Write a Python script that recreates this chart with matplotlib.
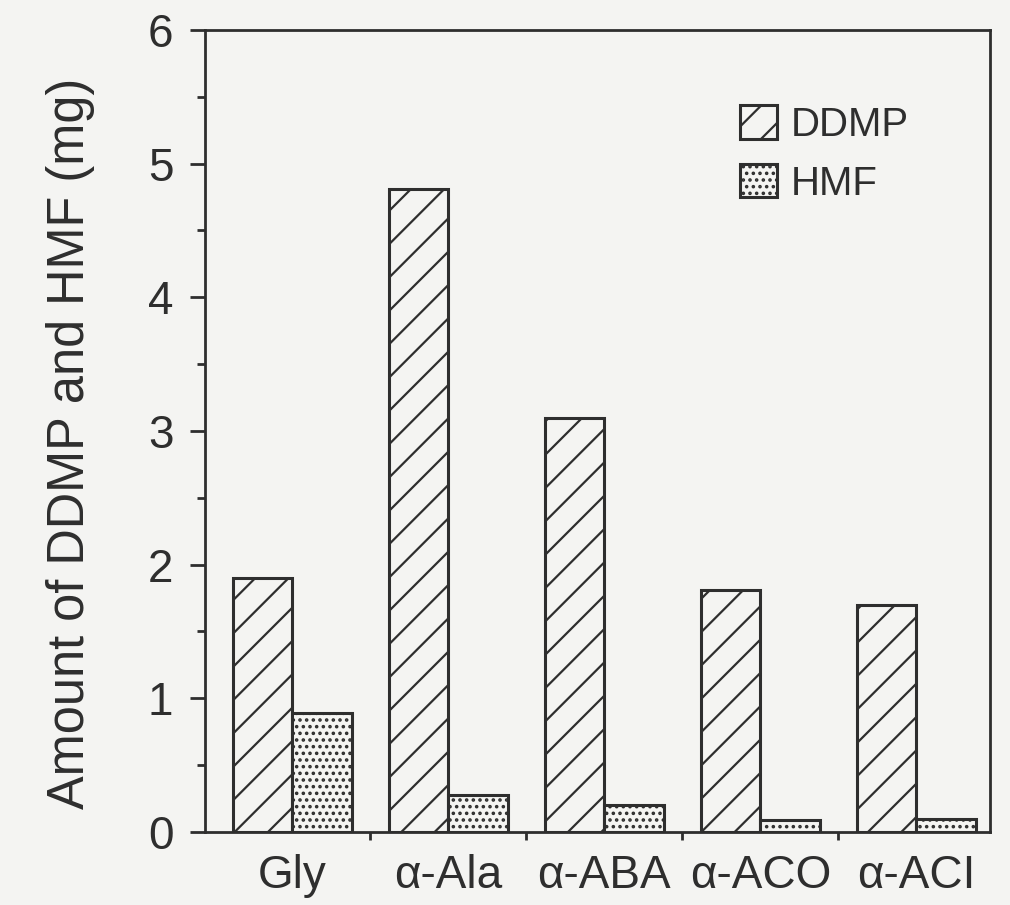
import matplotlib
matplotlib.use("Agg")
import matplotlib.pyplot as plt
import numpy as np
from matplotlib.ticker import MultipleLocator, FixedLocator

categories = ["Gly", "\u03b1-Ala", "\u03b1-ABA", "\u03b1-ACO", "\u03b1-ACI"]
ddmp = [1.90, 4.81, 3.10, 1.81, 1.70]
hmf = [0.89, 0.28, 0.20, 0.09, 0.10]
series_names = ["DDMP", "HMF"]
y_ticks = [0, 1, 2, 3, 4, 5, 6]

ink = "#2e2e2e"
bg = "#f4f4f2"

plt.rcParams['font.family'] = ['Liberation Sans', 'DejaVu Sans']
plt.rcParams['hatch.linewidth'] = 0.8
plt.rcParams['hatch.color'] = ink

fig = plt.figure(figsize=(5.05, 4.525), dpi=200, facecolor=bg)
ax = fig.add_axes([0.203, 0.0807, 0.777, 0.8862], facecolor=bg)

x = np.arange(len(categories))
w = 0.38
b1 = ax.bar(x - w / 2, ddmp, w, color=bg, edgecolor=ink, linewidth=1.1,
            hatch='//', label=series_names[0])
b2 = ax.bar(x + w / 2, hmf, w, color=bg, edgecolor=ink, linewidth=1.1,
            hatch='.....', label=series_names[1])

ax.set_xlim(-0.56, 4.47)
ax.set_ylim(0, 6)
ax.set_yticks(y_ticks)
ax.yaxis.set_minor_locator(MultipleLocator(0.5))
ax.set_xticks(x)
ax.set_xticklabels(categories)
ax.xaxis.set_minor_locator(FixedLocator(x[:-1] + 0.5))

for s in ax.spines.values():
    s.set_linewidth(1.0)
    s.set_color(ink)

ax.tick_params(axis='y', which='major', direction='out', length=5.4, width=1.0,
               color=ink, labelsize=16.5, labelcolor=ink, pad=6)
ax.tick_params(axis='y', which='minor', direction='out', length=2.9, width=1.0,
               color=ink)
ax.tick_params(axis='x', which='major', length=0, labelsize=16.5,
               labelcolor=ink, pad=8)
ax.tick_params(axis='x', which='minor', direction='out', length=2.9, width=1.0,
               color=ink)

ax.set_ylabel("Amount of DDMP and HMF (mg)", fontsize=18.2, color=ink)
ax.yaxis.set_label_coords(-0.14, 0.485)

leg = fig.legend(handles=[b1, b2], labels=series_names, loc='upper left',
                 bbox_to_anchor=(0.713, 0.906), frameon=False, fontsize=14.5,
                 handlelength=0.9, handleheight=0.9, handletextpad=0.35,
                 labelspacing=0.5, borderpad=0, labelcolor=ink)

fig.savefig("out.png", dpi=200, facecolor=bg)
